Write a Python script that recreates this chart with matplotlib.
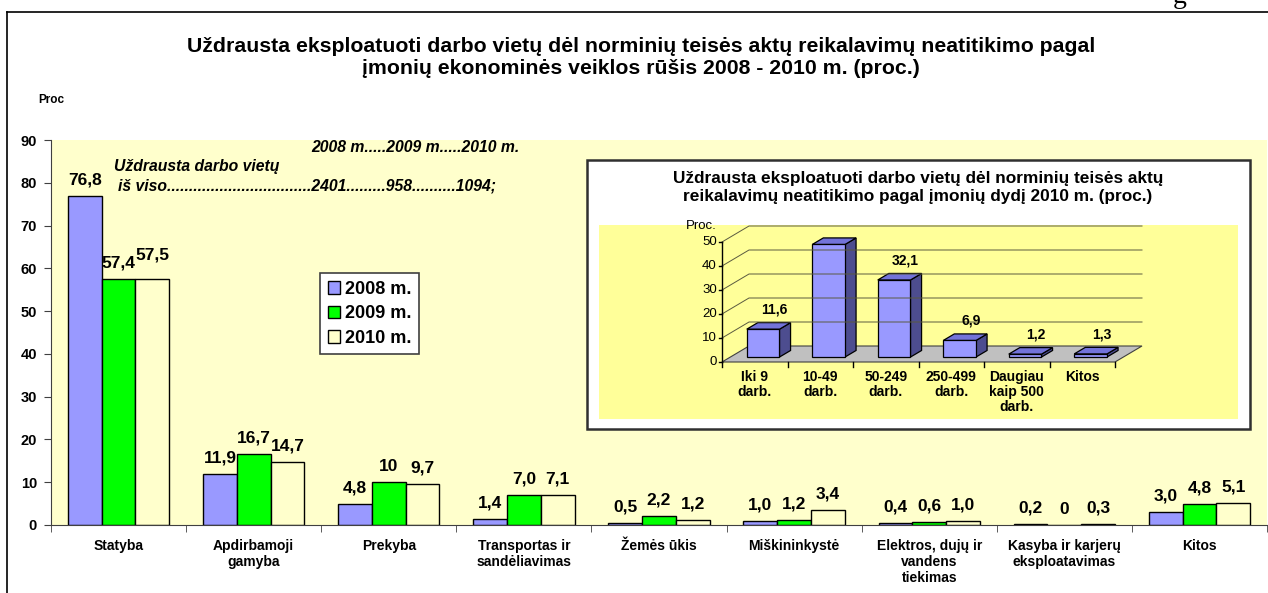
import matplotlib.pyplot as plt
from matplotlib.patches import Polygon, Rectangle
from matplotlib.lines import Line2D
import numpy as np

plt.rcParams['font.family'] = ['Liberation Sans', 'DejaVu Sans']

# main chart data
categories = ['Statyba', 'Apdirbamoji\ngamyba', 'Prekyba', 'Transportas ir\nsandėliavimas',
              'Žemės ūkis', 'Miškininkystė', 'Elektros, dujų ir\nvandens\ntiekimas',
              'Kasyba ir karjerų\neksploatavimas', 'Kitos']
v2008 = [76.8, 11.9, 4.8, 1.4, 0.5, 1.0, 0.4, 0.2, 3.0]
v2009 = [57.4, 16.7, 10, 7.0, 2.2, 1.2, 0.6, 0, 4.8]
v2010 = [57.5, 14.7, 9.7, 7.1, 1.2, 3.4, 1.0, 0.3, 5.1]
lab2008 = ['76,8', '11,9', '4,8', '1,4', '0,5', '1,0', '0,4', '0,2', '3,0']
lab2009 = ['57,4', '16,7', '10', '7,0', '2,2', '1,2', '0,6', '0', '4,8']
lab2010 = ['57,5', '14,7', '9,7', '7,1', '1,2', '3,4', '1,0', '0,3', '5,1']
series = ['2008 m.', '2009 m.', '2010 m.']
colors = ['#9999FF', '#00FF00', '#FFFFCC']

# inset data (2010, by enterprise size)
size_cats = ['Iki 9\ndarb.', '10-49\ndarb.', '50-249\ndarb.', '250-499\ndarb.', 'Daugiau\nkaip 500\ndarb.', 'Kitos']
size_vals = [11.6, 46.9, 32.1, 6.9, 1.2, 1.3]
size_labs = ['11,6', '46,9', '32,1', '6,9', '1,2', '1,3']

W, H = 1268, 593
fig = plt.figure(figsize=(W / 100, H / 100), dpi=100)


def fx(px):
    return px / W


def fy(py):
    return 1 - py / H


def box(x0, y0, x1, y1):
    return [fx(x0), fy(y1), fx(x1) - fx(x0), fy(y0) - fy(y1)]


# outer frame (page cut)
fig.add_artist(Line2D([fx(7), fx(7)], [fy(12), 0], color='black', lw=1.2))
fig.add_artist(Line2D([fx(7), 1], [fy(12), fy(12)], color='black', lw=1.2))
fig.text(fx(1180), fy(3), 'g', family='Liberation Serif', fontsize=20, ha='center', va='baseline')

fig.text(fx(641), fy(46), 'Uždrausta eksploatuoti darbo vietų dėl norminių teisės aktų reikalavimų neatitikimo pagal',
         ha='center', va='center', fontsize=15.3, weight='bold')
fig.text(fx(641), fy(69), 'įmonių ekonominės veiklos rūšis 2008 - 2010 m. (proc.)',
         ha='center', va='center', fontsize=15.3, weight='bold')
fig.text(fx(38), fy(100), 'Proc', ha='left', va='center', fontsize=8.5, weight='bold')

ax = fig.add_axes(box(51, 140, 1267, 525))
ax.set_facecolor('#FFFFCC')
x = np.arange(len(categories))
w = 0.25
for i, (vals, labs) in enumerate(zip([v2008, v2009, v2010], [lab2008, lab2009, lab2010])):
    bars = ax.bar(x + (i - 1) * w, vals, w, color=colors[i], edgecolor='black', linewidth=1, label=series[i])
    for b, t in zip(bars, labs):
        up = 17.5 if t == '57,5' else 11.5
        ax.annotate(t, (b.get_x() + b.get_width() / 2, b.get_height()), xytext=(0, up),
                    textcoords='offset points', ha='center', va='center', fontsize=12.5, weight='bold')

ax.set_xlim(-0.5, len(categories) - 0.5)
ax.set_ylim(0, 90)
ax.set_yticks(range(0, 91, 10))
ax.set_xticks(x)
ax.set_xticklabels(categories, fontsize=10, weight='bold', va='top', linespacing=1.2)
ax.set_xticks(np.arange(-0.5, len(categories), 1), minor=True)
ax.tick_params(axis='x', which='major', length=0, pad=10)
ax.tick_params(axis='x', which='minor', length=5, color='#404040', direction='out')
ax.tick_params(axis='y', length=5, color='#404040', labelsize=10.5, pad=5)
for t in ax.get_yticklabels():
    t.set_fontweight('bold')
for s in ['top', 'right']:
    ax.spines[s].set_visible(False)
for s in ['left', 'bottom']:
    ax.spines[s].set_color('#404040')

leg = ax.legend(loc='upper left', bbox_to_anchor=(fx(320), fy(273)), bbox_transform=fig.transFigure,
                prop={'weight': 'bold', 'size': 13}, fancybox=False, edgecolor='#404040',
                handlelength=0.7, handleheight=0.7, handletextpad=0.25, labelspacing=0.42,
                borderpad=0.42, borderaxespad=0, framealpha=1)
leg.get_frame().set_linewidth(1.2)

fig.text(fx(311), fy(147), '2008 m.....2009 m.....2010 m.', ha='left', va='center',
         fontsize=11.3, weight='bold', style='italic')
fig.text(fx(114), fy(166), 'Uždrausta darbo vietų', ha='left', va='center',
         fontsize=11.3, weight='bold', style='italic')
fig.text(fx(118), fy(186), 'iš viso.................................2401.........958..........1094;', ha='left',
         va='center', fontsize=11.3, weight='bold', style='italic')

# inset box
fig.add_artist(Rectangle((fx(587), fy(429)), fx(1250) - fx(587), fy(160) - fy(429), transform=fig.transFigure,
                         facecolor='white', edgecolor='#303030', linewidth=1.8, zorder=3))
fig.add_artist(Rectangle((fx(599), fy(419)), fx(1238) - fx(599), fy(225) - fy(419), transform=fig.transFigure,
                         facecolor='#FFFF99', edgecolor='none', zorder=3.1))
fig.text(fx(918), fy(179), 'Uždrausta eksploatuoti darbo vietų dėl norminių teisės aktų',
         ha='center', va='center', fontsize=12.4, weight='bold', zorder=4)
fig.text(fx(918), fy(197), 'reikalavimų neatitikimo pagal įmonių dydį 2010 m. (proc.)',
         ha='center', va='center', fontsize=12.4, weight='bold', zorder=4)

ax2 = fig.add_axes(box(722, 242, 1115, 362), zorder=5)
ax2.set_xlim(0, len(size_cats))
ax2.set_ylim(0, 50)
ax2.axis('off')
DX, DY = 27 / 65.5, 16 / 2.4


def proj(px, py, d):
    return (px + d * DX, py + d * DY)


n = len(size_cats)
floor = [proj(0, 0, 0), proj(n, 0, 0), proj(n, 0, 1), proj(0, 0, 1)]
ax2.add_patch(Polygon(floor, closed=True, facecolor='#C0C0C0', edgecolor='#404040', lw=0.8, clip_on=False))
for g in range(10, 51, 10):
    p = [proj(0, g, 0), proj(0, g, 1), proj(n, g, 1)]
    ax2.plot([q[0] for q in p], [q[1] for q in p], color='#5A5A40', lw=0.7, clip_on=False)
ax2.plot([0, 0], [0, 50], color='black', lw=1, clip_on=False)
for g in range(0, 51, 10):
    ax2.plot([-0.05, 0], [g, g], color='black', lw=1, clip_on=False)
    ax2.text(-0.08, g, str(g), ha='right', va='center', fontsize=9.5)
ax2.text(-0.08, 56.5, 'Proc.', ha='right', va='center', fontsize=9.5)
for k in range(n + 1):
    ax2.plot([k, k], [0, -2], color='black', lw=1, clip_on=False)

d0, d1 = 0.31, 0.72
for k, (v, t) in enumerate(zip(size_vals, size_labs)):
    x0, x1 = k + 0.25, k + 0.75
    side = [proj(x1, 0, d0), proj(x1, v, d0), proj(x1, v, d1), proj(x1, 0, d1)]
    top = [proj(x0, v, d0), proj(x1, v, d0), proj(x1, v, d1), proj(x0, v, d1)]
    front = [proj(x0, 0, d0), proj(x1, 0, d0), proj(x1, v, d0), proj(x0, v, d0)]
    ax2.add_patch(Polygon(side, closed=True, facecolor='#4D4D8F', edgecolor='black', lw=0.9, clip_on=False))
    ax2.add_patch(Polygon(top, closed=True, facecolor='#7373D9', edgecolor='black', lw=0.9, clip_on=False))
    ax2.add_patch(Polygon(front, closed=True, facecolor='#9999FF', edgecolor='black', lw=0.9, clip_on=False))
    cx, cy = proj(k + 0.5, v, d1)
    ax2.annotate(t, (cx, cy), xytext=(0, 9.5), textcoords='offset points', ha='center', va='center',
                 fontsize=10, weight='bold')
    ax2.text(k + 0.5, -3.3, size_cats[k], ha='center', va='top', fontsize=10, weight='bold', linespacing=1.1)

fig.savefig('out.png', dpi=100)
